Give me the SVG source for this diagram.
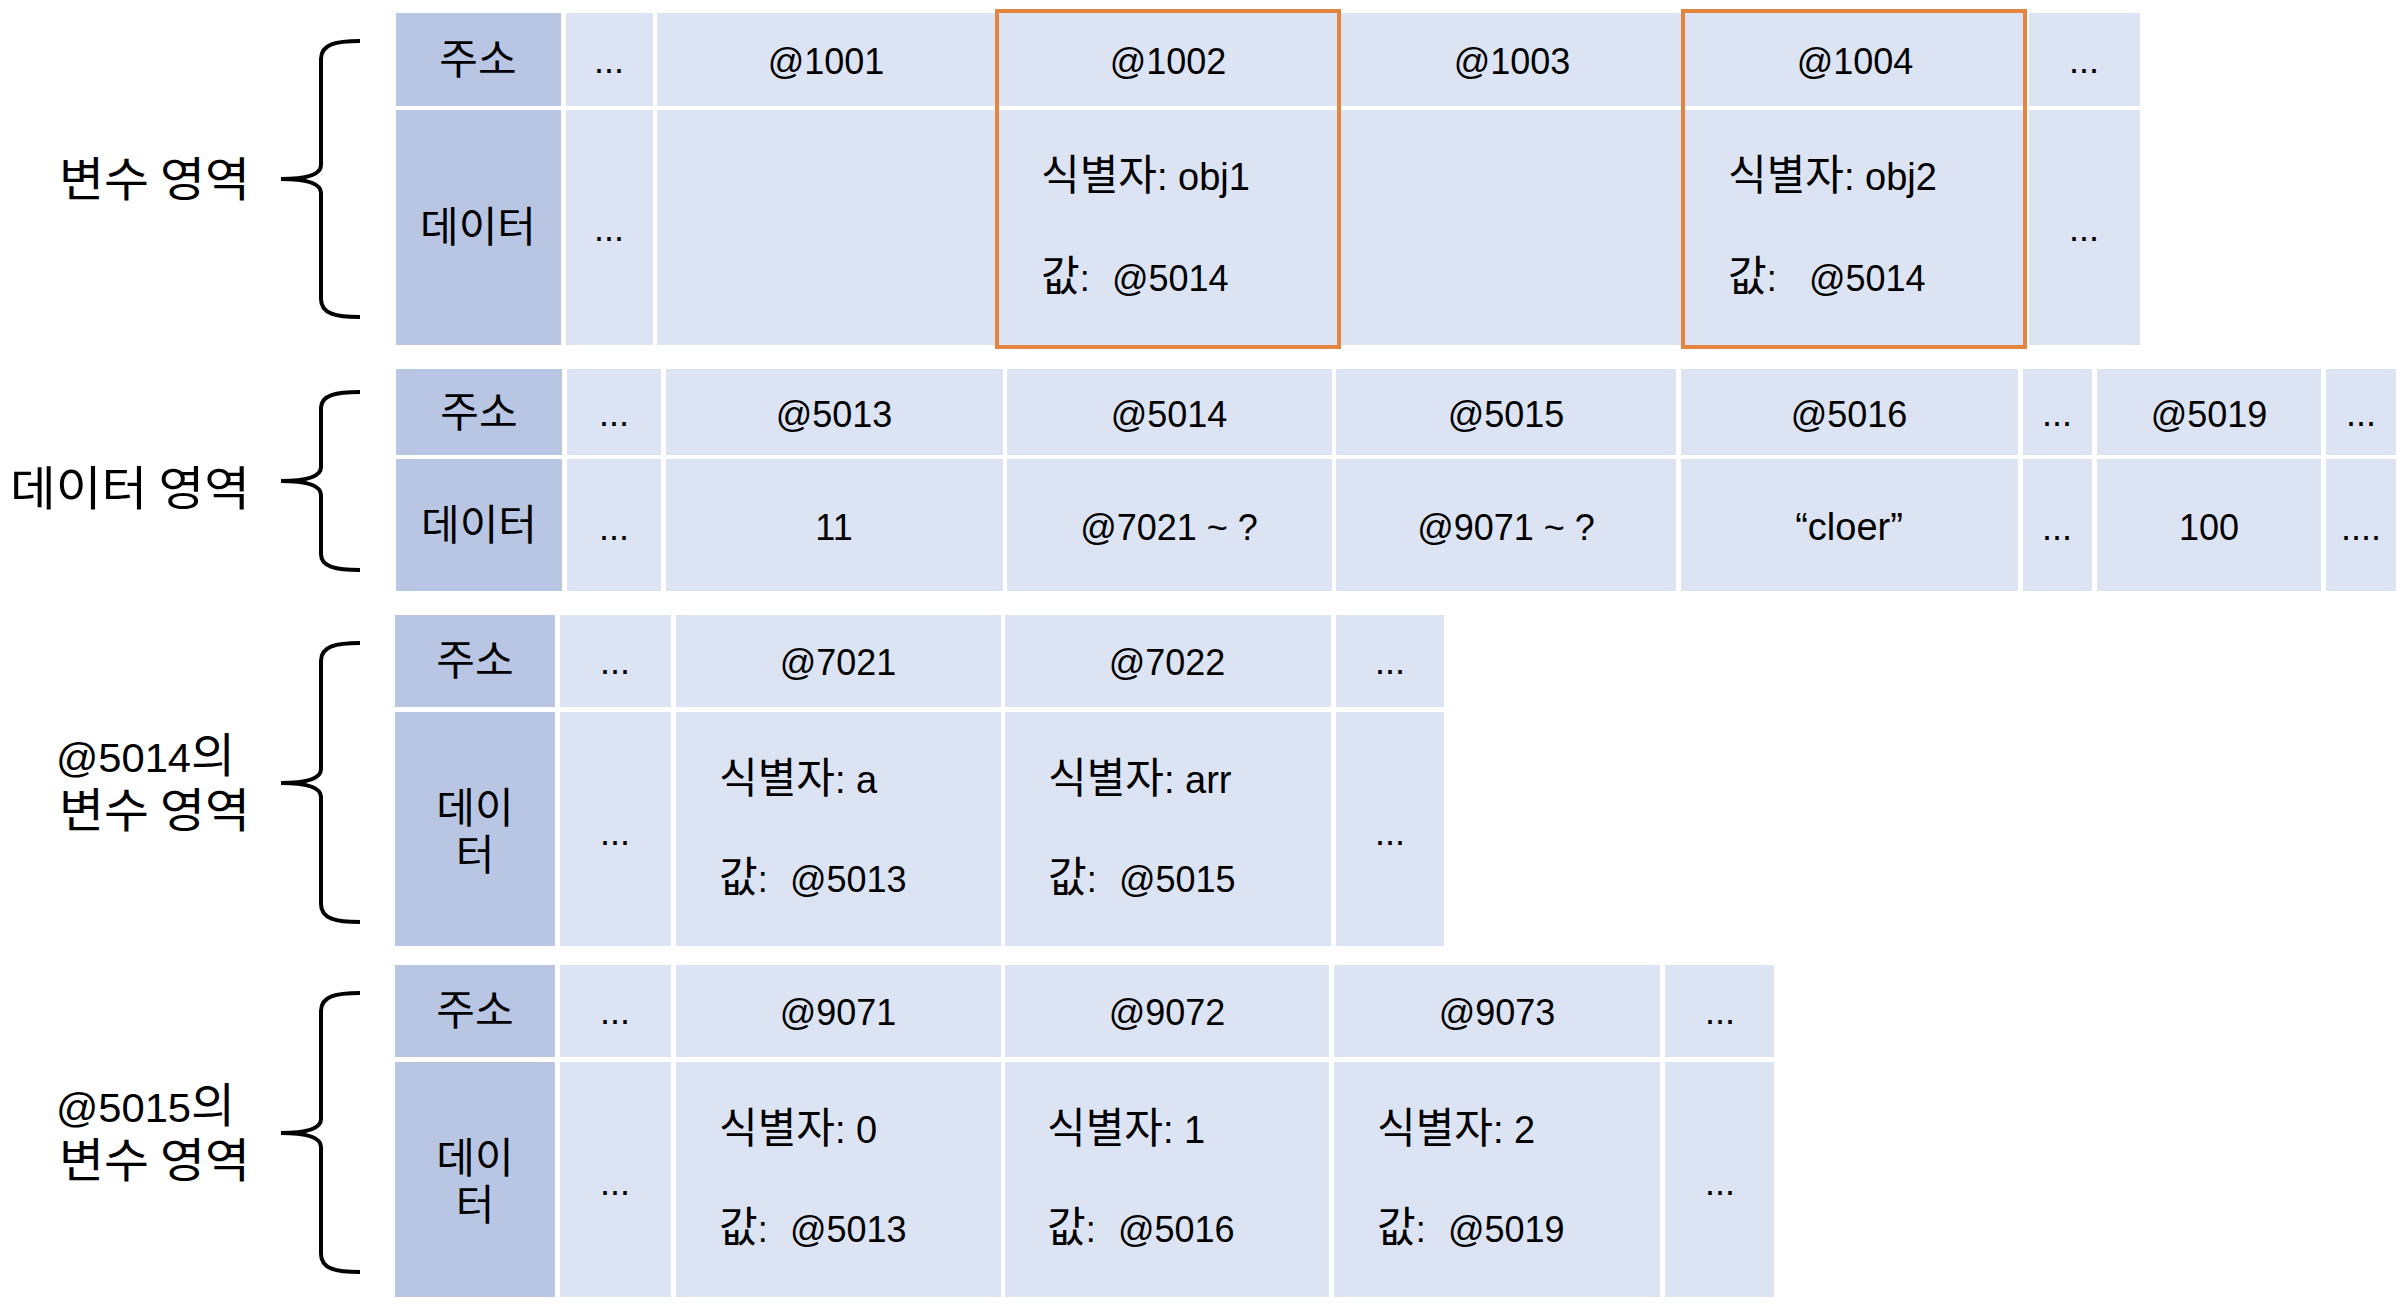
<svg xmlns="http://www.w3.org/2000/svg" width="2406" height="1316" viewBox="0 0 2406 1316">
<style>
.cd{fill:#B8C6E3}
.cl{fill:#DCE3F2}
.hl{fill:none;stroke:#E3853F;stroke-width:4}
.br{fill:none;stroke:#000;stroke-width:4;stroke-linecap:butt}
text{font-family:"Liberation Sans","Noto Sans CJK KR",sans-serif;fill:#000;font-size:36px}
.c{text-anchor:middle}
.id{font-size:38px}
.k{font-family:"Noto Sans CJK KR",sans-serif;font-size:42px}
.lb{font-family:"Noto Sans CJK KR",sans-serif;font-size:47px}
.ll{font-family:"Liberation Sans",sans-serif;font-size:41px}
</style>
<rect width="2406" height="1316" fill="#fff"/>

<!-- Labels -->
<g id="label-var">
<text class="lb" x="59" y="196" textLength="191" lengthAdjust="spacingAndGlyphs">변수 영역</text>
</g>
<g id="label-data">
<text class="lb" x="10" y="505" textLength="240" lengthAdjust="spacingAndGlyphs">데이터 영역</text>
</g>
<g id="label-5014">
<text class="lb" x="56" y="772" textLength="179" lengthAdjust="spacingAndGlyphs"><tspan class="ll">@5014</tspan>의</text>
<text class="lb" x="59" y="827" textLength="191" lengthAdjust="spacingAndGlyphs">변수 영역</text>
</g>
<g id="label-5015">
<text class="lb" x="56" y="1122" textLength="179" lengthAdjust="spacingAndGlyphs"><tspan class="ll">@5015</tspan>의</text>
<text class="lb" x="59" y="1177" textLength="191" lengthAdjust="spacingAndGlyphs">변수 영역</text>
</g>

<!-- Braces (connectors) -->
<g id="connectors">
<path class="br" d="M360,41 C336,41 321,44 321,59 L321,165 C321,175 306,179 281,179 C306,179 321,183 321,193 L321,299 C321,314 336,317 360,317"/>
<path class="br" d="M360,392 C336,392 321,395 321,408 L321,467 C321,477 306,481 281,481 C306,481 321,485 321,495 L321,554 C321,567 336,570 360,570"/>
<path class="br" d="M360,643 C336,643 321,646 321,661 L321,769 C321,779 306,783 281,783 C306,783 321,787 321,797 L321,904 C321,919 336,922 360,922"/>
<path class="br" d="M360,993 C336,993 321,996 321,1011 L321,1119 C321,1129 306,1133 281,1133 C306,1133 321,1137 321,1147 L321,1254 C321,1269 336,1272 360,1272"/>
</g>

<!-- Section 1: 변수 영역 -->
<g id="var-area">
<g id="v-c0"><rect class="cd" x="396" y="13" width="165" height="93"/><rect class="cd" x="396" y="110" width="165" height="235"/>
<text class="k c" x="478" y="74">주소</text><text class="k c" x="478" y="242">데이터</text></g>
<g id="v-c1"><rect class="cl" x="566" y="13" width="87" height="93"/><rect class="cl" x="566" y="110" width="87" height="235"/>
<text class="c" x="609" y="73">...</text><text class="c" x="609" y="241">...</text></g>
<g id="v-1001"><rect class="cl" x="657" y="13" width="338" height="93"/><rect class="cl" x="657" y="110" width="338" height="235"/>
<text class="c" x="826" y="74">@1001</text></g>
<g id="v-1002"><rect class="cl" x="999" y="13" width="338" height="93"/><rect class="cl" x="999" y="110" width="338" height="235"/>
<text class="c" x="1168" y="74">@1002</text>
<text class="id" x="1041" y="190"><tspan class="k">식별자</tspan>: obj1</text>
<text x="1041" y="291"><tspan class="k">값</tspan>:<tspan x="1112">@5014</tspan></text>
<rect class="hl" x="997" y="11" width="342" height="336"/></g>
<g id="v-1003"><rect class="cl" x="1341" y="13" width="340" height="93"/><rect class="cl" x="1341" y="110" width="340" height="235"/>
<text class="c" x="1512" y="74">@1003</text></g>
<g id="v-1004"><rect class="cl" x="1685" y="13" width="338" height="93"/><rect class="cl" x="1685" y="110" width="338" height="235"/>
<text class="c" x="1855" y="74">@1004</text>
<text class="id" x="1728" y="190"><tspan class="k">식별자</tspan>: obj2</text>
<text x="1728" y="291"><tspan class="k">값</tspan>:<tspan x="1809">@5014</tspan></text>
<rect class="hl" x="1683" y="11" width="342" height="336"/></g>
<g id="v-c6"><rect class="cl" x="2029" y="13" width="111" height="93"/><rect class="cl" x="2029" y="110" width="111" height="235"/>
<text class="c" x="2084" y="73">...</text><text class="c" x="2084" y="241">...</text></g>
</g>

<!-- Section 2: 데이터 영역 -->
<g id="data-area">
<g id="d-c0"><rect class="cd" x="396" y="369" width="166" height="86"/><rect class="cd" x="396" y="459" width="166" height="132"/>
<text class="k c" x="479" y="427">주소</text><text class="k c" x="479" y="540">데이터</text></g>
<g id="d-c1"><rect class="cl" x="567" y="369" width="94" height="86"/><rect class="cl" x="567" y="459" width="94" height="132"/>
<text class="c" x="614" y="426">...</text><text class="c" x="614" y="540">...</text></g>
<g id="d-5013"><rect class="cl" x="666" y="369" width="337" height="86"/><rect class="cl" x="666" y="459" width="337" height="132"/>
<text class="c" x="834" y="427">@5013</text><text class="c" x="834" y="540">11</text></g>
<g id="d-5014"><rect class="cl" x="1007" y="369" width="325" height="86"/><rect class="cl" x="1007" y="459" width="325" height="132"/>
<text class="c" x="1169" y="427">@5014</text><text class="c" x="1169" y="540">@7021 ~ ?</text></g>
<g id="d-5015"><rect class="cl" x="1336" y="369" width="340" height="86"/><rect class="cl" x="1336" y="459" width="340" height="132"/>
<text class="c" x="1506" y="427">@5015</text><text class="c" x="1506" y="540">@9071 ~ ?</text></g>
<g id="d-5016"><rect class="cl" x="1681" y="369" width="337" height="86"/><rect class="cl" x="1681" y="459" width="337" height="132"/>
<text class="c" x="1849" y="427">@5016</text><text class="c" x="1849" y="540" style="font-size:38px">“cloer”</text></g>
<g id="d-c6"><rect class="cl" x="2023" y="369" width="69" height="86"/><rect class="cl" x="2023" y="459" width="69" height="132"/>
<text class="c" x="2057" y="426">...</text><text class="c" x="2057" y="540">...</text></g>
<g id="d-5019"><rect class="cl" x="2097" y="369" width="224" height="86"/><rect class="cl" x="2097" y="459" width="224" height="132"/>
<text class="c" x="2209" y="427">@5019</text><text class="c" x="2209" y="540">100</text></g>
<g id="d-c8"><rect class="cl" x="2326" y="369" width="70" height="86"/><rect class="cl" x="2326" y="459" width="70" height="132"/>
<text class="c" x="2361" y="426">...</text><text class="c" x="2361" y="540">....</text></g>
</g>

<!-- Section 3: @5014의 변수 영역 -->
<g id="area-5014">
<g id="a-c0"><rect class="cd" x="395" y="615" width="160" height="92"/><rect class="cd" x="395" y="712" width="160" height="234"/>
<text class="k c" x="475" y="675">주소</text><text class="k c"><tspan x="475" y="823">데이</tspan><tspan x="475" y="870">터</tspan></text></g>
<g id="a-c1"><rect class="cl" x="560" y="615" width="111" height="92"/><rect class="cl" x="560" y="712" width="111" height="234"/>
<text class="c" x="615" y="674">...</text><text class="c" x="615" y="845">...</text></g>
<g id="a-7021"><rect class="cl" x="676" y="615" width="325" height="92"/><rect class="cl" x="676" y="712" width="325" height="234"/>
<text class="c" x="838" y="675">@7021</text>
<text class="id" x="719" y="793"><tspan class="k">식별자</tspan>: a</text>
<text x="719" y="892"><tspan class="k">값</tspan>:<tspan x="790">@5013</tspan></text></g>
<g id="a-7022"><rect class="cl" x="1005" y="615" width="326" height="92"/><rect class="cl" x="1005" y="712" width="326" height="234"/>
<text class="c" x="1167" y="675">@7022</text>
<text class="id" x="1048" y="793"><tspan class="k">식별자</tspan>: arr</text>
<text x="1048" y="892"><tspan class="k">값</tspan>:<tspan x="1119">@5015</tspan></text></g>
<g id="a-c4"><rect class="cl" x="1336" y="615" width="108" height="92"/><rect class="cl" x="1336" y="712" width="108" height="234"/>
<text class="c" x="1390" y="674">...</text><text class="c" x="1390" y="845">...</text></g>
</g>

<!-- Section 4: @5015의 변수 영역 -->
<g id="area-5015">
<g id="b-c0"><rect class="cd" x="395" y="965" width="160" height="92"/><rect class="cd" x="395" y="1062" width="160" height="235"/>
<text class="k c" x="475" y="1025">주소</text><text class="k c"><tspan x="475" y="1173">데이</tspan><tspan x="475" y="1220">터</tspan></text></g>
<g id="b-c1"><rect class="cl" x="560" y="965" width="111" height="92"/><rect class="cl" x="560" y="1062" width="111" height="235"/>
<text class="c" x="615" y="1024">...</text><text class="c" x="615" y="1195">...</text></g>
<g id="b-9071"><rect class="cl" x="676" y="965" width="325" height="92"/><rect class="cl" x="676" y="1062" width="325" height="235"/>
<text class="c" x="838" y="1025">@9071</text>
<text class="id" x="719" y="1143"><tspan class="k">식별자</tspan>: 0</text>
<text x="719" y="1242"><tspan class="k">값</tspan>:<tspan x="790">@5013</tspan></text></g>
<g id="b-9072"><rect class="cl" x="1005" y="965" width="324" height="92"/><rect class="cl" x="1005" y="1062" width="324" height="235"/>
<text class="c" x="1167" y="1025">@9072</text>
<text class="id" x="1047" y="1143"><tspan class="k">식별자</tspan>: 1</text>
<text x="1047" y="1242"><tspan class="k">값</tspan>:<tspan x="1118">@5016</tspan></text></g>
<g id="b-9073"><rect class="cl" x="1334" y="965" width="326" height="92"/><rect class="cl" x="1334" y="1062" width="326" height="235"/>
<text class="c" x="1497" y="1025">@9073</text>
<text class="id" x="1377" y="1143"><tspan class="k">식별자</tspan>: 2</text>
<text x="1377" y="1242"><tspan class="k">값</tspan>:<tspan x="1448">@5019</tspan></text></g>
<g id="b-c5"><rect class="cl" x="1665" y="965" width="109" height="92"/><rect class="cl" x="1665" y="1062" width="109" height="235"/>
<text class="c" x="1720" y="1024">...</text><text class="c" x="1720" y="1195">...</text></g>
</g>
</svg>
